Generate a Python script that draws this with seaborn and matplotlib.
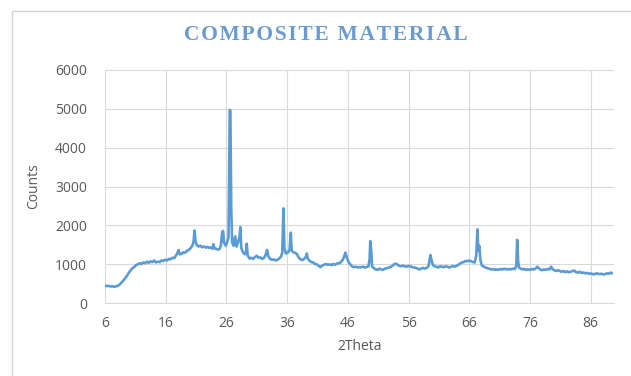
import matplotlib
matplotlib.use("Agg")
import matplotlib.pyplot as plt
from matplotlib.lines import Line2D
import seaborn as sns
import pandas as pd

# XRD scan of the composite: diffraction angle (2θ, degrees) and detector counts
two_theta = [
    6.0, 6.3, 6.6, 6.9, 7.2, 7.5, 7.8, 8.1, 8.4, 8.7, 9.0, 9.3, 9.6, 9.9,
    10.2, 10.5, 10.8, 11.1, 11.4, 11.7, 12.0, 12.3, 12.6, 12.9, 13.2, 13.5, 13.8, 14.1,
    14.4, 14.7, 15.0, 15.3, 15.6, 15.9, 16.2, 16.5, 16.8, 17.1, 17.4, 17.7, 17.9, 18.1,
    18.3, 18.6, 18.9, 19.2, 19.5, 19.8, 20.1, 20.4, 20.6, 20.75, 20.9, 21.1, 21.4, 21.7,
    22.0, 22.3, 22.6, 22.9, 23.2, 23.5, 23.7, 23.85, 24.0, 24.3, 24.6, 24.9, 25.1, 25.3,
    25.45, 25.6, 25.9, 26.1, 26.35, 26.55, 26.65, 26.8, 26.95, 27.2, 27.45, 27.65, 27.9, 28.15,
    28.3, 28.45, 28.7, 29.0, 29.2, 29.35, 29.5, 29.8, 30.1, 30.4, 30.7, 31.0, 31.3, 31.6,
    31.9, 32.2, 32.45, 32.7, 32.9, 33.2, 33.5, 33.8, 34.1, 34.4, 34.7, 35.0, 35.2, 35.4,
    35.55, 35.8, 36.1, 36.4, 36.6, 36.75, 37.0, 37.3, 37.6, 37.9, 38.2, 38.5, 38.8, 39.1,
    39.25, 39.4, 39.7, 40.0, 40.3, 40.6, 40.9, 41.2, 41.5, 41.8, 42.1, 42.4, 42.7, 43.0,
    43.3, 43.6, 43.9, 44.2, 44.5, 44.8, 45.1, 45.35, 45.6, 45.85, 46.1, 46.4, 46.7, 47.0,
    47.3, 47.6, 47.9, 48.2, 48.5, 48.8, 49.1, 49.4, 49.6, 49.7, 49.85, 50.0, 50.3, 50.6,
    50.9, 51.2, 51.5, 51.8, 52.1, 52.4, 52.7, 53.0, 53.3, 53.6, 53.9, 54.2, 54.5, 54.8,
    55.1, 55.4, 55.7, 56.0, 56.3, 56.6, 56.9, 57.2, 57.5, 57.8, 58.1, 58.4, 58.7, 59.0,
    59.3, 59.6, 59.8, 60.0, 60.3, 60.6, 60.9, 61.2, 61.5, 61.8, 62.1, 62.4, 62.7, 63.0,
    63.3, 63.6, 63.9, 64.2, 64.5, 64.8, 65.1, 65.4, 65.7, 66.0, 66.3, 66.6, 66.9, 67.15,
    67.35, 67.5, 67.65, 67.85, 68.1, 68.4, 68.7, 69.0, 69.3, 69.6, 69.9, 70.2, 70.5, 70.8,
    71.1, 71.4, 71.7, 72.0, 72.3, 72.6, 72.9, 73.2, 73.5, 73.75, 73.9, 74.05, 74.2, 74.5,
    74.8, 75.1, 75.4, 75.7, 76.0, 76.3, 76.6, 76.9, 77.2, 77.45, 77.7, 78.0, 78.3, 78.6,
    78.9, 79.2, 79.5, 79.7, 80.0, 80.3, 80.6, 80.9, 81.2, 81.5, 81.8, 82.1, 82.4, 82.7,
    83.0, 83.3, 83.6, 83.9, 84.2, 84.5, 84.8, 85.1, 85.4, 85.7, 86.0, 86.3, 86.6, 86.9,
    87.2, 87.5, 87.8, 88.1, 88.4, 88.7, 89.0, 89.3, 89.5,
]
counts = [
    455, 440, 450, 430, 440, 420, 435, 450, 480, 530, 580, 640, 700, 780,
    840, 900, 930, 980, 1000, 1030, 1010, 1050, 1030, 1070, 1040, 1080, 1060, 1100,
    1050, 1070, 1060, 1100, 1090, 1120, 1100, 1140, 1130, 1170, 1160, 1230, 1280, 1370,
    1260, 1270, 1310, 1300, 1350, 1370, 1420, 1480, 1600, 1870, 1600, 1500, 1460, 1480,
    1440, 1460, 1430, 1450, 1420, 1440, 1400, 1520, 1420, 1400, 1380, 1400, 1500, 1820,
    1860, 1560, 1480, 1560, 1700, 4970, 4950, 2400, 1560, 1480, 1720, 1460, 1560, 1700,
    1960, 1420, 1320, 1260, 1300, 1530, 1230, 1150, 1170, 1140, 1190, 1220, 1170, 1180,
    1140, 1170, 1240, 1370, 1210, 1140, 1120, 1130, 1100, 1120, 1150, 1200, 1300, 2440,
    1420, 1280, 1300, 1360, 1815, 1360, 1310, 1300, 1270, 1180, 1130, 1110, 1140, 1200,
    1280, 1150, 1090, 1060, 1050, 1010, 1000, 960, 930, 970, 990, 1010, 990, 1000,
    980, 1010, 990, 1020, 1030, 1050, 1100, 1180, 1300, 1170, 1060, 1000, 950, 930,
    940, 920, 930, 925, 940, 920, 930, 950, 1150, 1600, 1350, 950, 900, 870,
    860, 890, 870, 860, 890, 900, 920, 930, 960, 1000, 1020, 990, 960, 950,
    970, 950, 940, 960, 950, 930, 920, 910, 890, 870, 890, 910, 890, 910,
    960, 1240, 1100, 990, 950, 940, 920, 950, 940, 930, 950, 940, 920, 940,
    960, 940, 960, 990, 1020, 1050, 1060, 1090, 1080, 1100, 1080, 1060, 1050, 1220,
    1900, 1350, 1480, 1100, 970, 940, 920, 900, 890, 870, 880, 860, 870, 860,
    880, 870, 885, 880, 870, 880, 870, 890, 880, 960, 1630, 1100, 920, 890,
    870, 880, 860, 870, 860, 880, 870, 890, 940, 900, 870, 850, 870, 860,
    880, 870, 940, 880, 850, 830, 850, 830, 810, 830, 800, 820, 800, 810,
    830, 840, 800, 790, 810, 780, 790, 770, 780, 760, 770, 750, 745, 770,
    760, 750, 760, 740, 750, 770, 760, 790, 770,
]
x_ticks = [6, 16, 26, 36, 46, 56, 66, 76, 86]
y_ticks = [0, 1000, 2000, 3000, 4000, 5000, 6000]

df = pd.DataFrame({"2Theta": two_theta, "Counts": counts})

sns.set_theme(style="white")
plt.rcParams["font.family"] = ["Open Sans", "DejaVu Sans"]

fig = plt.figure(figsize=(6.31, 3.76), dpi=100)
ax = fig.add_axes([0.1664, 0.1934, 0.8062, 0.6207])

sns.lineplot(data=df, x="2Theta", y="Counts", ax=ax, color="#5B9BD5",
             linewidth=1.9, sort=False, estimator=None)

ax.set_xlim(6, 89.8)
ax.set_ylim(0, 6000)
ax.set_xticks(x_ticks)
ax.set_yticks(y_ticks)
ax.set_xticklabels([str(v) for v in x_ticks])
ax.set_yticklabels([str(v) for v in y_ticks])
ax.grid(True, color="#D9D9D9", linewidth=0.8)
ax.set_axisbelow(True)
for side in ["top", "right", "left"]:
    ax.spines[side].set_visible(False)
ax.spines["bottom"].set_color("#D9D9D9")
ax.spines["bottom"].set_linewidth(0.8)
ax.tick_params(axis="both", length=0, colors="#595959", labelsize=10)
ax.tick_params(axis="x", pad=9)
ax.tick_params(axis="y", pad=13)

ax.set_xlabel("2Theta", fontsize=10, color="#595959", labelpad=6)
ax.set_ylabel("Counts", fontsize=10, color="#595959", labelpad=10)

# letter-spaced chart title
title = "\u200a".join("COMPOSITE MATERIAL")
fig.text(0.517, 0.908, title, ha="center", va="center",
         family=["Liberation Serif", "DejaVu Serif"], fontweight="bold",
         fontsize=15.5, color="#6A9BCF")

# chart-area frame (top and left edges)
fig.add_artist(Line2D([0.019, 1.0], [0.971, 0.971], transform=fig.transFigure,
                      color="#D4D4D4", linewidth=1))
fig.add_artist(Line2D([0.019, 0.019], [0.0, 0.971], transform=fig.transFigure,
                      color="#D4D4D4", linewidth=1))

fig.savefig("out.png", dpi=100, facecolor="white")
